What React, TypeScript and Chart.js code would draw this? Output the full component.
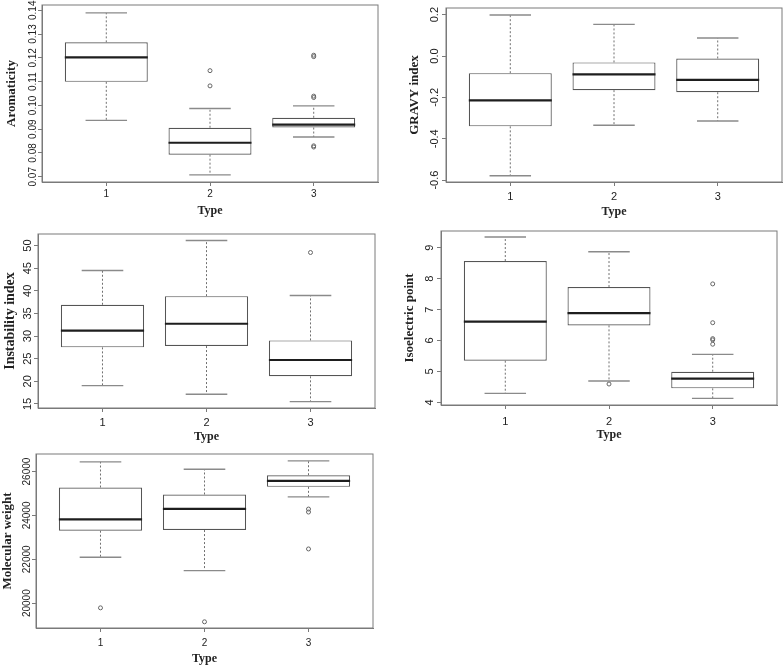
import React, { useEffect, useRef } from 'react';
import { Chart, registerables } from 'chart.js';

Chart.register(...registerables);

// ---------- shared categories ----------
const types = ['1', '2', '3'];
const typePositions = [1, 2, 3];

// ---------- Aromaticity ----------
const aroLower = [0.0937, 0.0708, 0.0867];
const aroQ1 = [0.1099, 0.0793, 0.0907];
const aroMedian = [0.1202, 0.0843, 0.0919];
const aroQ3 = [0.1265, 0.0906, 0.0948];
const aroUpper = [0.1389, 0.0987, 0.0998];
const aroOutliers = [[], [0.1146, 0.1082], [0.1211, 0.1205, 0.1039, 0.1033, 0.083, 0.0825]];
const aroTicks = [0.07, 0.08, 0.09, 0.1, 0.11, 0.12, 0.13, 0.14];
const aroTickLabels = ['0.07', '0.08', '0.09', '0.10', '0.11', '0.12', '0.13', '0.14'];

// ---------- GRAVY index ----------
const gravyLower = [-0.579, -0.335, -0.314];
const gravyQ1 = [-0.34, -0.165, -0.175];
const gravyMedian = [-0.214, -0.089, -0.115];
const gravyQ3 = [-0.083, -0.031, -0.012];
const gravyUpper = [0.198, 0.153, 0.087];
const gravyOutliers = [[], [], []];
const gravyTicks = [-0.6, -0.4, -0.2, 0.0, 0.2];
const gravyTickLabels = ['-0.6', '-0.4', '-0.2', '0.0', '0.2'];

// ---------- Instability index ----------
const instLower = [19.04, 17.13, 15.51];
const instQ1 = [27.5, 27.79, 21.1];
const instMedian = [31.18, 32.72, 24.71];
const instQ3 = [36.91, 38.82, 29.04];
const instUpper = [44.49, 51.1, 38.97];
const instOutliers = [[], [], [48.46]];
const instTicks = [15, 20, 25, 30, 35, 40, 45, 50];
const instTickLabels = ['15', '20', '25', '30', '35', '40', '45', '50'];

// ---------- Isoelectric point ----------
const pILower = [4.291, 4.69, 4.129];
const pIQ1 = [5.347, 6.489, 4.453];
const pIMedian = [6.608, 6.888, 4.765];
const pIQ3 = [8.569, 7.728, 4.991];
const pIUpper = [9.345, 8.871, 5.553];
const pIOutliers = [[], [4.593], [7.83, 6.575, 6.06, 6.02, 5.88]];
const pITicks = [4, 5, 6, 7, 8, 9];
const pITickLabels = ['4', '5', '6', '7', '8', '9'];

// ---------- Molecular weight ----------
const mwLower = [22091, 21485, 24848];
const mwQ1 = [23303, 23333, 25303];
const mwMedian = [23818, 24303, 25576];
const mwQ3 = [25273, 24955, 25833];
const mwUpper = [26439, 26106, 26485];
const mwOutliers = [[19788], [19152], [24291, 24155, 22473]];
const mwTicks = [20000, 22000, 24000, 26000];
const mwTickLabels = ['20000', '22000', '24000', '26000'];

// ---------- styles ----------
const FRAME = '#7a7a7a';
const BOX_LINE = '#555555';
const MEDIAN_LINE = '#1e1e1e';
const WHISKER = '#707070';
const CAP = '#8a8a8a';
const TEXT = '#222222';
const TICK_FONT = '"Liberation Sans", Arial, sans-serif';
const TITLE_FONT = '"Liberation Serif", "Times New Roman", serif';
const BOX_HALF = 0.4;
const CAP_HALF = 0.2;
const TICK_LEN = 4;

type Panel = {
  title: string;
  lower: number[]; q1: number[]; median: number[]; q3: number[]; upper: number[];
  outliers: number[][];
  ticks: number[]; tickLabels: string[];
  yMin: number; yMax: number;
  L: number; T: number; W: number; H: number;
  x1: number; x2: number; y1: number; y2: number;
  yTitleX: number; yTickX: number; xTickY: number; xTitleY: number;
  titleSize: number; tickSize: number;
};

const panels: Panel[] = [
  {
    title: 'Aromaticity', lower: aroLower, q1: aroQ1, median: aroMedian, q3: aroQ3, upper: aroUpper,
    outliers: aroOutliers, ticks: aroTicks, tickLabels: aroTickLabels, yMin: 0.0678, yMax: 0.1422,
    L: 0, T: 0, W: 392, H: 222, x1: 42, x2: 378, y1: 5, y2: 182,
    yTitleX: 12, yTickX: 33, xTickY: 194, xTitleY: 211, titleSize: 13, tickSize: 10,
  },
  {
    title: 'GRAVY index', lower: gravyLower, q1: gravyQ1, median: gravyMedian, q3: gravyQ3, upper: gravyUpper,
    outliers: gravyOutliers, ticks: gravyTicks, tickLabels: gravyTickLabels, yMin: -0.609, yMax: 0.232,
    L: 392, T: 0, W: 392, H: 222, x1: 446, x2: 782, y1: 8, y2: 182,
    yTitleX: 415, yTickX: 435, xTickY: 197, xTitleY: 212, titleSize: 13, tickSize: 11,
  },
  {
    title: 'Instability index', lower: instLower, q1: instQ1, median: instMedian, q3: instQ3, upper: instUpper,
    outliers: instOutliers, ticks: instTicks, tickLabels: instTickLabels, yMin: 14.1, yMax: 52.55,
    L: 0, T: 222, W: 392, H: 222, x1: 38, x2: 375, y1: 234, y2: 408,
    yTitleX: 10, yTickX: 28, xTickY: 423, xTitleY: 437, titleSize: 14, tickSize: 11,
  },
  {
    title: 'Isoelectric point', lower: pILower, q1: pIQ1, median: pIMedian, q3: pIQ3, upper: pIUpper,
    outliers: pIOutliers, ticks: pITicks, tickLabels: pITickLabels, yMin: 3.915, yMax: 9.54,
    L: 392, T: 222, W: 392, H: 222, x1: 441, x2: 777, y1: 231, y2: 405,
    yTitleX: 410, yTickX: 430, xTickY: 422, xTitleY: 435, titleSize: 13, tickSize: 11,
  },
  {
    title: 'Molecular weight', lower: mwLower, q1: mwQ1, median: mwMedian, q3: mwQ3, upper: mwUpper,
    outliers: mwOutliers, ticks: mwTicks, tickLabels: mwTickLabels, yMin: 18870, yMax: 26800,
    L: 0, T: 444, W: 392, H: 222, x1: 36, x2: 373, y1: 454, y2: 628,
    yTitleX: 8, yTickX: 27, xTickY: 643, xTitleY: 659, titleSize: 13, tickSize: 10,
  },
];

function buildConfig(p: Panel): any {
  const boxes = typePositions.map((x, i) => ({ x, y: [p.q1[i], p.q3[i]] }));
  const medians: any[] = [];
  const whiskers: any[] = [];
  const caps: any[] = [];
  const outs: any[] = [];
  typePositions.forEach((x, i) => {
    medians.push({ x: x - BOX_HALF, y: p.median[i] }, { x: x + BOX_HALF, y: p.median[i] }, { x, y: null });
    whiskers.push({ x, y: p.q3[i] }, { x, y: p.upper[i] }, { x, y: null });
    whiskers.push({ x, y: p.q1[i] }, { x, y: p.lower[i] }, { x, y: null });
    caps.push({ x: x - CAP_HALF, y: p.upper[i] }, { x: x + CAP_HALF, y: p.upper[i] }, { x, y: null });
    caps.push({ x: x - CAP_HALF, y: p.lower[i] }, { x: x + CAP_HALF, y: p.lower[i] }, { x, y: null });
    p.outliers[i].forEach((v) => outs.push({ x, y: v }));
  });

  const titleLH = p.titleSize * 1.2;
  const tickLH = p.tickSize * 1.2;
  const yw = p.x1 - p.L;
  const xh = p.T + p.H - p.y2;

  const decor = {
    id: 'boxDecor',
    afterDraw(chart: any) {
      const { ctx, chartArea } = chart;
      const y = chart.scales.y;
      ctx.save();
      ctx.strokeStyle = FRAME;
      ctx.lineWidth = 1;
      ctx.strokeRect(chartArea.left, chartArea.top, chartArea.right - chartArea.left, chartArea.bottom - chartArea.top);
      ctx.fillStyle = TEXT;
      ctx.font = `${p.tickSize}px ${TICK_FONT}`;
      ctx.textAlign = 'center';
      ctx.textBaseline = 'middle';
      const lx = p.yTickX - p.L;
      y.ticks.forEach((t: any, i: number) => {
        const py = y.getPixelForValue(t.value);
        ctx.save();
        ctx.translate(lx, py);
        ctx.rotate(-Math.PI / 2);
        ctx.fillText(p.tickLabels[i], 0, 0);
        ctx.restore();
      });
      ctx.restore();
    },
  };

  return {
    type: 'bar',
    data: {
      datasets: [
        {
          type: 'line', data: medians, borderColor: MEDIAN_LINE, borderWidth: 2.2,
          pointRadius: 0, spanGaps: false, fill: false, order: 0, borderCapStyle: 'butt',
        },
        {
          type: 'scatter', data: outs, pointRadius: 2, pointBorderWidth: 1,
          pointBorderColor: '#666666', pointBackgroundColor: 'rgba(255,255,255,0)', order: 1,
        },
        {
          type: 'line', data: caps, borderColor: CAP, borderWidth: 1.4,
          pointRadius: 0, spanGaps: false, fill: false, order: 2,
        },
        {
          type: 'line', data: whiskers, borderColor: WHISKER, borderWidth: 1, borderDash: [2, 2],
          pointRadius: 0, spanGaps: false, fill: false, order: 3,
        },
        {
          type: 'bar', data: boxes, backgroundColor: '#ffffff', borderColor: BOX_LINE,
          borderWidth: 1.2, borderSkipped: false, barPercentage: 1, categoryPercentage: 2 * BOX_HALF, order: 4,
        },
      ],
    },
    options: {
      responsive: false,
      maintainAspectRatio: false,
      animation: false,
      events: [],
      layout: { padding: { left: 0, top: p.y1 - p.T, right: p.L + p.W - p.x2, bottom: 0 } },
      plugins: { legend: { display: false }, tooltip: { enabled: false } },
      scales: {
        x: {
          type: 'linear', min: 0.38, max: 3.62, offset: false,
          afterBuildTicks: (s: any) => { s.ticks = typePositions.map((v) => ({ value: v })); },
          afterFit: (s: any) => { s.height = xh; },
          ticks: {
            autoSkip: false, maxRotation: 0, color: TEXT,
            font: { size: p.tickSize, family: TICK_FONT, lineHeight: 1.2 },
            padding: p.xTickY - p.y2 - TICK_LEN - tickLH / 2,
            callback: (_v: any, i: number) => types[i],
          },
          grid: { display: true, drawOnChartArea: false, drawTicks: true, tickLength: TICK_LEN, color: FRAME, offset: false },
          border: { display: true, color: FRAME },
          title: {
            display: true, text: 'Type', color: TEXT,
            font: { size: 12, family: TITLE_FONT, weight: 'bold', lineHeight: 1.2 },
            padding: { top: 0, bottom: p.T + p.H - p.xTitleY - 12 * 1.2 / 2 },
          },
        },
        y: {
          type: 'linear', min: p.yMin, max: p.yMax, beginAtZero: false,
          afterBuildTicks: (s: any) => { s.ticks = p.ticks.map((v) => ({ value: v })); },
          afterFit: (s: any) => { s.width = yw; },
          ticks: { display: false },
          grid: { display: true, drawOnChartArea: false, drawTicks: true, tickLength: TICK_LEN, color: FRAME },
          border: { display: true, color: FRAME },
          title: {
            display: true, text: p.title, color: TEXT,
            font: { size: p.titleSize, family: TITLE_FONT, weight: 'bold', lineHeight: 1.2 },
            padding: { top: p.yTitleX - p.L - titleLH / 2, bottom: 0 },
          },
        },
      },
    },
    plugins: [decor],
  };
}

function BoxPanel({ p }: { p: Panel }) {
  const ref = useRef<HTMLCanvasElement>(null);
  useEffect(() => {
    const canvas = ref.current;
    if (!canvas) return;
    const chart = new Chart(canvas, buildConfig(p));
    return () => chart.destroy();
  }, [p]);
  return (
    <canvas
      ref={ref}
      width={p.W}
      height={p.H}
      style={{ position: 'absolute', left: p.L, top: p.T, width: p.W, height: p.H }}
    />
  );
}

export default function App() {
  return (
    <div style={{ position: 'absolute', left: 0, top: 0, width: 784, height: 666, background: '#ffffff', overflow: 'hidden' }}>
      {panels.map((p) => (
        <BoxPanel key={p.title} p={p} />
      ))}
    </div>
  );
}
